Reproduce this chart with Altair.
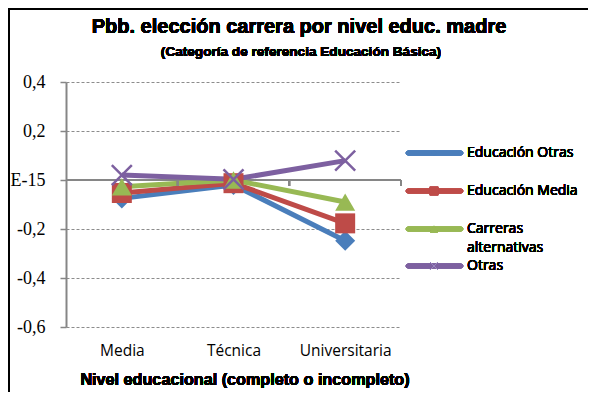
import altair as alt
import pandas as pd

categories = ["Media", "Técnica", "Universitaria"]
series_names = ["Educación Otras", "Educación Media", "Carreras alternativas", "Otras"]
edu_otras = [-0.075, -0.02, -0.248]
edu_media = [-0.053, -0.013, -0.177]
carreras_alt = [-0.028, 0.0, -0.09]
otras = [0.02, 0.003, 0.079]
y_ticks = [-0.6, -0.4, -0.2, 0.0, 0.2, 0.4]
colors = ["#4A7EBB", "#BE4B48", "#98B954", "#7D60A0"]
shapes = ["diamond", "square", "triangle-up", "M-1,-1L1,1M-1,1L1,-1"]

title = "Pbb. elección carrera por nivel educ. madre"
subtitle = "(Categoría de referencia Educación Básica)"
x_title = "Nivel educacional (completo o incompleto)"

rows = []
for name, vals in zip(series_names, [edu_otras, edu_media, carreras_alt, otras]):
    for i, (c, v) in enumerate(zip(categories, vals)):
        rows.append({"serie": name, "cat": c, "val": v, "ord": series_names.index(name)})
df = pd.DataFrame(rows)

W, H = 335, 245
PL, PT = 58, 74
TOTAL_W, TOTAL_H = 580, 384
y0 = 0.4 / 1.0 * H  # pixel of zero line

xenc = alt.X("cat:N", sort=categories,
             scale=alt.Scale(domain=categories, type="point", padding=0.5),
             axis=alt.Axis(title=None, domain=False, ticks=False, grid=False,
                           labelFont="Open Sans", labelFontSize=15.5, labelColor="#000000",
                           labelPadding=16, labelAngle=0))
yenc = alt.Y("val:Q",
             scale=alt.Scale(domain=[-0.6, 0.4], nice=False, zero=False),
             axis=alt.Axis(title=None, values=y_ticks,
                           labelExpr="datum.value == 0 ? 'E-15' : replace(replace(format(datum.value, '.1f'), '.', ','), '\u2212', '-')",
                           labelFont="Liberation Serif", labelFontSize=18, labelColor="#000000",
                           labelPadding=15, tickSize=6, tickColor="#868686", tickWidth=1.5,
                           domainColor="#868686", domainWidth=2,
                           grid=True, gridColor="#8c8c8c", gridDash=[3, 2], gridWidth=1))
color = alt.Color("serie:N", scale=alt.Scale(domain=series_names, range=colors), legend=None)

base = alt.Chart(df)
lines = base.mark_line(strokeWidth=5).encode(x=xenc, y=yenc, color=color, order="ord:Q")
pts_filled = base.transform_filter(alt.datum.serie != "Otras").mark_point(filled=True, size=400, opacity=1).encode(
    x=xenc, y=yenc, color=color,
    shape=alt.Shape("serie:N", scale=alt.Scale(domain=series_names, range=shapes), legend=None))
pts_cross = base.transform_filter(alt.datum.serie == "Otras").mark_point(
    shape=shapes[3], filled=False, size=400, strokeWidth=2.5, opacity=1).encode(
    x=xenc, y=yenc, color=color)

zero_line = alt.Chart(df).mark_rule(color="#868686", strokeWidth=1.5).encode(y=alt.datum(0))

deco = []
# x-axis ticks at band boundaries on the zero line
for k in (1, 2, 3):
    deco.append(alt.Chart(df).mark_rule(color="#868686", strokeWidth=1.5).encode(
        x=alt.value(k * W / 3), y=alt.value(y0), y2=alt.value(y0 + 6)))

# titles
def txt(t, x, y, size, bold=True, align="center", font="Liberation Sans"):
    return alt.Chart(df).mark_text(text=t, font=font, fontSize=size,
                                   fontWeight="bold" if bold else "normal",
                                   align=align, baseline="middle", color="#000000").encode(
        x=alt.value(x), y=alt.value(y))

deco.append(txt(title, 299 - 66, 27 - 82, 20))
deco.append(txt(subtitle, 301 - 66, 52 - 82, 13.6))
deco.append(txt(x_title, 245 - 66, 380 - 82, 16.2))

# legend
leg_y = [153, 191, 229, 266]
leg_sizes = [35, 70, 60, 60]
for i, name in enumerate(series_names):
    yy = leg_y[i] - 82
    deco.append(alt.Chart(df).mark_rule(color=colors[i], strokeWidth=4.5, strokeCap="round").encode(
        x=alt.value(408 - 66), x2=alt.value(461 - 66), y=alt.value(yy)))
    if i < 3:
        deco.append(alt.Chart(df).mark_point(shape=shapes[i], filled=True, size=leg_sizes[i],
                                             color=colors[i], opacity=1).encode(
            x=alt.value(434 - 66), y=alt.value(yy)))
    else:
        deco.append(alt.Chart(df).mark_point(shape=shapes[i], filled=False, size=leg_sizes[i],
                                             color="#9a86c0", strokeWidth=1, opacity=1).encode(
            x=alt.value(434 - 66), y=alt.value(yy)))
    if name == "Carreras alternativas":
        deco.append(txt("Carreras", 467 - 66, yy, 14, bold=False, align="left", font="Open Sans"))
        deco.append(txt("alternativas", 467 - 66, yy + 19, 14, bold=False, align="left", font="Open Sans"))
    else:
        deco.append(txt(name, 467 - 66, yy, 14, bold=False, align="left", font="Open Sans"))

# outer border (top and left)
deco.append(alt.Chart(df).mark_rule(color="#000000", strokeWidth=3).encode(
    x=alt.value(-PL), x2=alt.value(TOTAL_W - PL), y=alt.value(-PT + 0.5)))
deco.append(alt.Chart(df).mark_rule(color="#000000", strokeWidth=3).encode(
    x=alt.value(-PL + 0.5), y=alt.value(-PT), y2=alt.value(TOTAL_H - PT)))

chart = alt.layer(zero_line, lines, pts_filled, pts_cross, *deco).properties(
    width=W, height=H,
    autosize=alt.AutoSizeParams(type="none"),
    padding={"left": PL, "top": PT, "right": TOTAL_W - PL - W, "bottom": TOTAL_H - PT - H},
    background="white",
).configure_view(stroke=None)

chart.save("out.html", embed_options={"renderer": "svg", "actions": False})
